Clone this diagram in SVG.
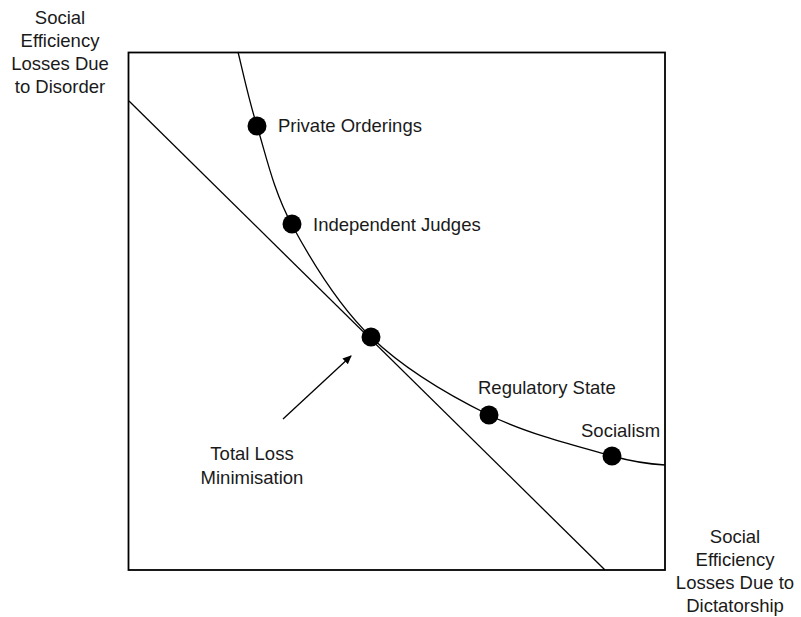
<svg xmlns="http://www.w3.org/2000/svg" width="801" height="617" viewBox="0 0 801 617">
<style>
text{font-family:"Liberation Sans",Arial,sans-serif;font-size:18.5px;fill:#1a1a1a}
.ln{fill:none;stroke:#000;stroke-width:1.3}
.dot{fill:#000}
</style>
<defs>
<marker id="ah" markerWidth="10" markerHeight="10" refX="8" refY="5" orient="auto" markerUnits="userSpaceOnUse">
<path d="M0,1 L9,5 L0,9 Z" fill="#000"/>
</marker>
</defs>
<rect width="801" height="617" fill="#fff"/>
<g id="axes-box"><rect x="128.5" y="52.5" width="536.5" height="517.5" fill="none" stroke="#000" stroke-width="1.8"/></g>
<g id="connectors">
<line class="ln" x1="129" y1="101" x2="605" y2="570"/>
<path class="ln" d="M238,52 C241.2,64.3 248,97.2 257,126 C266,154.8 273,189.8 292,225 C311,260.2 338.2,305.3 371,337 C403.8,368.7 448.8,395.2 489,415 C529.2,434.8 582.7,447.7 612,456 C639,463.5 656.2,464.5 665,465"/>
<line class="ln" x1="283" y1="419" x2="351" y2="356" stroke-width="1.6" marker-end="url(#ah)"/>
</g>
<g id="node-private"><circle class="dot" cx="257" cy="126" r="9.5"/><text x="278" y="132">Private Orderings</text></g>
<g id="node-judges"><circle class="dot" cx="292" cy="224" r="9.5"/><text x="313" y="231">Independent Judges</text></g>
<g id="node-total"><circle class="dot" cx="371" cy="337" r="9.5"/></g>
<g id="node-regulatory"><circle class="dot" cx="489" cy="415" r="9.5"/><text x="478" y="394">Regulatory State</text></g>
<g id="node-socialism"><circle class="dot" cx="612" cy="456" r="9.5"/><text x="581" y="437">Socialism</text></g>
<g id="label-total"><text text-anchor="middle" x="252" y="460">Total Loss</text><text text-anchor="middle" x="252" y="484">Minimisation</text></g>
<g id="label-y" text-anchor="middle"><text x="60" y="24">Social</text><text x="60" y="47">Efficiency</text><text x="60" y="70">Losses Due</text><text x="60" y="93">to Disorder</text></g>
<g id="label-x" text-anchor="middle"><text x="735" y="543">Social</text><text x="735" y="566">Efficiency</text><text x="735" y="589">Losses Due to</text><text x="735" y="612">Dictatorship</text></g>
</svg>
